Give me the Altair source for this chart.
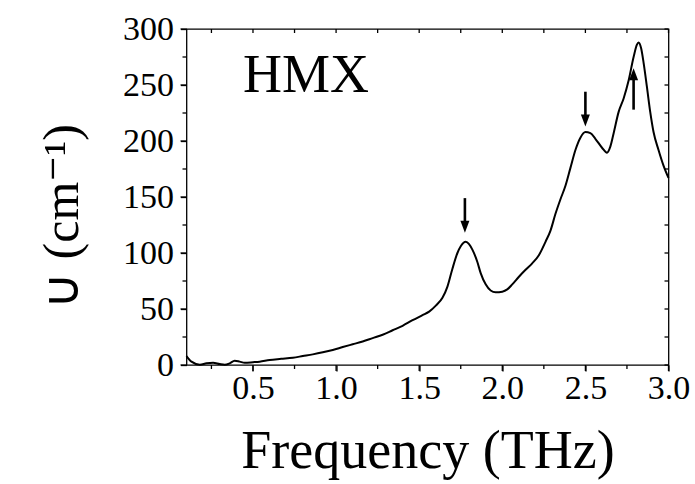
import altair as alt
import pandas as pd

# Absorption spectrum of HMX (frequency in THz, absorption coefficient in cm^-1)
freq = [0.10, 0.13, 0.18, 0.22, 0.26, 0.30, 0.33, 0.36, 0.39, 0.42, 0.45, 0.50,
        0.54, 0.60, 0.67, 0.74, 0.80, 0.86, 0.92, 0.98, 1.04, 1.10, 1.16, 1.22,
        1.28, 1.34, 1.40, 1.46, 1.52, 1.56, 1.60, 1.64, 1.67, 1.70, 1.73, 1.75,
        1.78, 1.80, 1.82, 1.85, 1.87, 1.90, 1.93, 1.96, 2.00, 2.03, 2.06, 2.10,
        2.14, 2.18, 2.22, 2.26, 2.29, 2.32, 2.35, 2.38, 2.41, 2.44, 2.47, 2.50,
        2.53, 2.56, 2.60, 2.63, 2.65, 2.67, 2.70, 2.73, 2.76, 2.79, 2.81, 2.82,
        2.835, 2.85, 2.87, 2.89, 2.91, 2.94, 2.97, 3.00]
absorb = [8.0, 3.0, 0.3, 1.5, 2.0, 0.8, 0.2, 1.5, 3.8, 3.0, 2.0, 2.5,
          3.0, 4.5, 5.5, 6.5, 8.0, 9.5, 11.3, 13.4, 16.0, 18.5, 21.0, 24.0,
          27.0, 31.0, 35.0, 40.0, 44.5, 47.6, 53.0, 60.0, 70.0, 86.0, 100.0, 106.0,
          110.0, 108.0, 103.0, 92.0, 82.0, 72.0, 66.5, 65.0, 65.5, 67.5, 72.0, 78.8,
          85.0, 90.8, 98.0, 110.0, 120.0, 135.0, 148.0, 160.0, 176.0, 192.0, 203.0, 208.0,
          207.0, 202.0, 194.0, 189.6, 195.0, 207.0, 226.0, 238.0, 254.0, 275.0, 286.0, 288.0,
          283.0, 270.0, 248.5, 226.0, 208.0, 192.0, 178.0, 167.0]

# Arrows marking the absorption peaks: position, tail and tip values
arrow_freq = [1.775, 2.50, 2.79]
arrow_tail = [149.0, 244.0, 228.0]
arrow_tip = [118.0, 213.0, 265.0]

x_major = [0.5, 1.0, 1.5, 2.0, 2.5, 3.0]
x_minor = [0.25, 0.75, 1.25, 1.75, 2.25, 2.75]
y_major = [0, 50, 100, 150, 200, 250, 300]
y_minor = [25, 75, 125, 175, 225, 275]

W, H = 482, 336

spectrum = pd.DataFrame({"freq": freq, "absorb": absorb})
arrows = pd.DataFrame({"freq": arrow_freq, "tail": arrow_tail, "tip": arrow_tip})
arrows["dir"] = ["down" if t < s else "up" for s, t in zip(arrow_tail, arrow_tip)]
# shaft stops inside the arrow head
arrows["shaft_end"] = [t + 9 if d == "down" else t - 9 for t, d in zip(arrows["tip"], arrows["dir"])]
label = pd.DataFrame({"freq": [0.44], "absorb": [243.5], "text": ["HMX"]})
xt_major = pd.DataFrame({"v": x_major})
xt_minor = pd.DataFrame({"v": x_minor})
xt_all = pd.DataFrame({"v": x_major + x_minor})
yt_major = pd.DataFrame({"v": y_major})
yt_minor = pd.DataFrame({"v": y_minor})
yt_all = pd.DataFrame({"v": y_major + y_minor})

FONT = "Liberation Serif"
x_scale = alt.Scale(domain=[0.1, 3.0], nice=False, zero=False)
y_scale = alt.Scale(domain=[0, 300], nice=False)

x_bottom = alt.Axis(
    orient="bottom", values=x_major, format=".1f", domain=False, grid=False,
    ticks=True, tickSize=6, tickColor="black", tickWidth=1.3,
    labelFont=FONT, labelFontSize=34, labelColor="black", labelPadding=0, labelFlush=False,
    title="Frequency (THz)", titleFont=FONT, titleFontSize=54, titleFontWeight="normal",
    titleColor="black", titleY=102, titleBaseline="alphabetic",
)
y_left = alt.Axis(
    orient="left", values=y_major, format="d", domain=False, grid=False,
    ticks=True, tickSize=6, tickColor="black", tickWidth=1.3,
    labelFont=FONT, labelFontSize=34, labelColor="black", labelPadding=7, labelFlush=False,
    title="∪ (cm⁻¹)", titleFont=FONT, titleFontSize=50, titleFontWeight="normal",
    titleColor="black", titleX=-109, titleY=187, titleBaseline="alphabetic",
    titleAlign="center", titleAngle=270,
)

line = alt.Chart(spectrum).mark_line(color="black", strokeWidth=2, interpolate="monotone").encode(
    x=alt.X("freq:Q", scale=x_scale, axis=x_bottom),
    y=alt.Y("absorb:Q", scale=y_scale, axis=y_left),
)

# tick marks on all four sides: outward on bottom/left, inward on top/right
def xticks(df, y0, y1):
    return alt.Chart(df).mark_rule(color="black", strokeWidth=1.3).encode(
        x=alt.X("v:Q", scale=x_scale, axis=None), y=alt.value(y0), y2=alt.value(y1))


def yticks(df, x0, x1):
    return alt.Chart(df).mark_rule(color="black", strokeWidth=1.3).encode(
        y=alt.Y("v:Q", scale=y_scale, axis=None), x=alt.value(x0), x2=alt.value(x1))


bottom_major = xticks(xt_major, H, H + 6)
bottom_minor = xticks(xt_minor, H, H + 4)
top_ticks = xticks(xt_all, 0, 4)
left_major = yticks(yt_major, 0, -6)
left_minor = yticks(yt_minor, 0, -4)
right_ticks = yticks(yt_all, W, W - 4)

shafts = alt.Chart(arrows).mark_rule(color="black", strokeWidth=2.6).encode(
    x=alt.X("freq:Q", scale=x_scale, axis=None),
    y=alt.Y("tail:Q", scale=y_scale, axis=None),
    y2="shaft_end:Q",
)

head_down = "M -0.75 -2 L 0.75 -2 L 0 0 Z"
head_up = "M -0.75 2 L 0.75 2 L 0 0 Z"
heads = alt.Chart(arrows).mark_point(filled=True, color="black", opacity=1, size=144).encode(
    x=alt.X("freq:Q", scale=x_scale, axis=None),
    y=alt.Y("tip:Q", scale=y_scale, axis=None),
    shape=alt.Shape("dir:N", scale=alt.Scale(domain=["down", "up"], range=[head_down, head_up]),
                    legend=None),
)

hmx = alt.Chart(label).mark_text(font=FONT, fontSize=54, align="left", baseline="alphabetic",
                                 color="black").encode(
    x=alt.X("freq:Q", scale=x_scale, axis=None),
    y=alt.Y("absorb:Q", scale=y_scale, axis=None),
    text="text:N",
)

chart = (
    alt.layer(line, bottom_major, bottom_minor, top_ticks, left_major, left_minor,
              right_ticks, shafts, heads, hmx)
    .resolve_axis(x="independent", y="independent")
    .properties(
        width=W, height=H, autosize="none", background="white",
        padding={"left": 186.5, "top": 29, "right": 26.5, "bottom": 119},
    )
    .configure_view(stroke="black", strokeWidth=1.3)
)

chart.save("out.html", embed_options={"renderer": "svg", "actions": False})
